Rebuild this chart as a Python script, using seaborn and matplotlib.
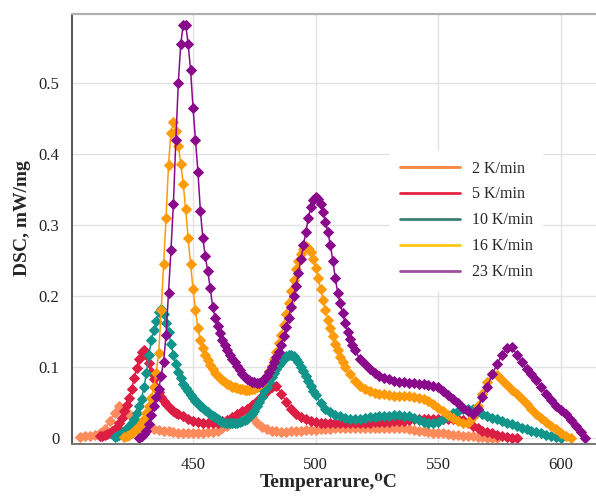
import numpy as np
import pandas as pd
import matplotlib
matplotlib.use("Agg")
import matplotlib.pyplot as plt
from matplotlib.lines import Line2D
import seaborn as sns

# DSC signal (mW/mg). Each run is stored in segments: (first temperature, step in degC, values)

# 2 K/min
dsc_2 = [0.002, 0.003, 0.004, 0.005, 0.007, 0.013, 0.024, 0.036, 0.046, 0.043,
         0.034, 0.026, 0.021, 0.017, 0.015, 0.013, 0.012, 0.011, 0.010, 0.009,
         0.008, 0.007, 0.007, 0.007, 0.008, 0.008, 0.009, 0.009, 0.011, 0.014,
         0.017, 0.021, 0.026, 0.031, 0.033, 0.030, 0.022, 0.016, 0.013, 0.011,
         0.010, 0.009, 0.009, 0.010, 0.011, 0.011, 0.012, 0.012, 0.012, 0.013,
         0.013, 0.013, 0.014, 0.014, 0.014, 0.014, 0.015, 0.015, 0.015, 0.015,
         0.015, 0.015, 0.015, 0.015, 0.015, 0.014, 0.014, 0.013, 0.012, 0.011,
         0.010, 0.009, 0.008, 0.008, 0.007, 0.006, 0.005, 0.005, 0.004, 0.003,
         0.003, 0.002, 0.002, 0.001, 0.001, 0.000]

# 5 K/min
dsc_5_peak = [0.003, 0.004, 0.005, 0.006, 0.008, 0.010, 0.012, 0.016, 0.022, 0.029,
              0.038, 0.047, 0.057, 0.070, 0.085, 0.099, 0.112, 0.121, 0.124, 0.117,
              0.106, 0.094, 0.083, 0.073, 0.065, 0.058, 0.052, 0.048, 0.044, 0.041,
              0.038, 0.036, 0.034]
dsc_5_tail = [0.031, 0.028, 0.025, 0.023, 0.022, 0.021, 0.021, 0.022, 0.024, 0.026,
              0.030, 0.034, 0.038, 0.042, 0.047, 0.053, 0.060, 0.067, 0.073, 0.074,
              0.063, 0.051, 0.041, 0.034, 0.030, 0.027, 0.025, 0.023, 0.022, 0.022,
              0.021, 0.021, 0.021, 0.021, 0.021, 0.022, 0.022, 0.022, 0.022, 0.023,
              0.023, 0.023, 0.023, 0.024, 0.024, 0.025, 0.026, 0.027, 0.027, 0.028,
              0.028, 0.028, 0.028, 0.028, 0.028, 0.027, 0.027, 0.026, 0.022, 0.017,
              0.014, 0.011, 0.009, 0.007, 0.005, 0.003, 0.002, 0.001, 0.000]

# 10 K/min
dsc_10_peak = [0.002, 0.003, 0.005, 0.007, 0.010, 0.013, 0.017, 0.021, 0.028, 0.036,
               0.045, 0.056, 0.072, 0.092, 0.118, 0.138, 0.153, 0.165, 0.178, 0.182,
               0.175, 0.163, 0.150, 0.133, 0.117, 0.104, 0.094, 0.085, 0.077, 0.071,
               0.066, 0.061, 0.057, 0.053, 0.050, 0.046, 0.043, 0.040, 0.037, 0.034,
               0.032, 0.030, 0.027, 0.025, 0.023, 0.022, 0.021, 0.021, 0.021, 0.021,
               0.022, 0.023, 0.024, 0.026, 0.028, 0.031, 0.034, 0.039, 0.045, 0.051,
               0.058, 0.066, 0.073, 0.080, 0.086, 0.092, 0.098, 0.103, 0.108, 0.112,
               0.116, 0.118, 0.118, 0.116, 0.112, 0.107, 0.101, 0.095, 0.088, 0.081,
               0.074, 0.067, 0.061]
dsc_10_tail = [0.050, 0.042, 0.037, 0.033, 0.031, 0.029, 0.028, 0.028, 0.028, 0.029,
               0.030, 0.030, 0.031, 0.032, 0.032, 0.033, 0.033, 0.032, 0.031, 0.029,
               0.026, 0.023, 0.021, 0.021, 0.023, 0.027, 0.032, 0.036, 0.039, 0.041,
               0.042, 0.041, 0.038, 0.035, 0.032, 0.029, 0.027, 0.024, 0.022, 0.020,
               0.018, 0.015, 0.013, 0.011, 0.009, 0.007, 0.005, 0.004, 0.002, 0.001]

# 16 K/min
dsc_16_peak = [0.002, 0.003, 0.005, 0.007, 0.010, 0.013, 0.017, 0.022, 0.028, 0.036,
               0.045, 0.057, 0.072, 0.092, 0.120, 0.180, 0.245, 0.310, 0.385, 0.430,
               0.445, 0.432, 0.412, 0.386, 0.358, 0.322, 0.282, 0.245, 0.210, 0.180,
               0.155, 0.138, 0.127, 0.118, 0.110, 0.103, 0.097, 0.092, 0.088, 0.085,
               0.082, 0.079, 0.077, 0.075, 0.073, 0.072, 0.071, 0.070, 0.069, 0.068,
               0.068, 0.068, 0.069, 0.070, 0.072, 0.075, 0.078, 0.083, 0.088, 0.095,
               0.102, 0.112, 0.122, 0.134, 0.146, 0.160, 0.175, 0.191, 0.208, 0.223,
               0.238, 0.250, 0.260, 0.267, 0.271, 0.268, 0.262, 0.252, 0.240, 0.226,
               0.210, 0.195, 0.180, 0.167, 0.155, 0.144, 0.133, 0.124, 0.115, 0.108,
               0.101]
dsc_16_tail = [0.090, 0.081, 0.074, 0.069, 0.066, 0.064, 0.063, 0.062, 0.061, 0.060,
               0.060, 0.059, 0.059, 0.058, 0.057, 0.055, 0.052, 0.048, 0.043, 0.038,
               0.033, 0.029, 0.025, 0.022, 0.021, 0.030, 0.045, 0.063, 0.080, 0.090,
               0.089, 0.082, 0.075, 0.068, 0.062, 0.055, 0.048, 0.041, 0.035, 0.029,
               0.023, 0.018, 0.013, 0.008, 0.004, 0.000]

# 23 K/min
dsc_23_peak = [0.001, 0.003, 0.006, 0.010, 0.020, 0.033, 0.045, 0.058, 0.070, 0.088,
               0.108, 0.145, 0.205, 0.265, 0.330, 0.420, 0.500, 0.555, 0.582, 0.582,
               0.555, 0.518, 0.465, 0.420, 0.375, 0.320, 0.282, 0.256, 0.235, 0.212,
               0.185, 0.170, 0.158, 0.148, 0.139, 0.131, 0.124, 0.118, 0.112, 0.107,
               0.102, 0.096, 0.090, 0.087, 0.084, 0.082, 0.080, 0.079, 0.078, 0.078,
               0.080, 0.084, 0.088, 0.094, 0.100, 0.107, 0.114, 0.122, 0.132, 0.144,
               0.157, 0.170, 0.185, 0.200, 0.215, 0.233, 0.252, 0.272, 0.290, 0.310,
               0.325, 0.335, 0.340, 0.337, 0.330, 0.318, 0.305, 0.290, 0.272, 0.250,
               0.225, 0.205, 0.190, 0.176, 0.163, 0.150, 0.140, 0.131, 0.124]
dsc_23_tail = [0.112, 0.104, 0.097, 0.092, 0.088, 0.085, 0.083, 0.081, 0.080, 0.079,
               0.078, 0.078, 0.077, 0.076, 0.075, 0.074, 0.072, 0.067, 0.061, 0.055,
               0.050, 0.043, 0.038, 0.035, 0.042, 0.058, 0.073, 0.090, 0.105, 0.118,
               0.127, 0.128, 0.118, 0.108, 0.098, 0.091, 0.082, 0.072, 0.063, 0.054,
               0.046, 0.040, 0.034, 0.026, 0.017, 0.009, 0.001]

rates = ["2 K/min", "5 K/min", "10 K/min", "16 K/min", "23 K/min"]
segments = {
    "2 K/min": [(404, 2, dsc_2)],
    "5 K/min": [(412, 1, dsc_5_peak), (446, 2, dsc_5_tail)],
    "10 K/min": [(418, 1, dsc_10_peak), (502, 2, dsc_10_tail)],
    "16 K/min": [(422, 1, dsc_16_peak), (514, 2, dsc_16_tail)],
    "23 K/min": [(428, 1, dsc_23_peak), (518, 2, dsc_23_tail)],
}

curve_colors = ["#FF8A5C", "#DC1E44", "#11958A", "#FF9A08", "#8A0A8C"]
legend_colors = ["#F58540", "#E5233F", "#3C7F76", "#FFC814", "#9D4FA0"]

x_ticks = [450, 500, 550, 600]
y_ticks = [0, 0.1, 0.2, 0.3, 0.4, 0.5]
y_tick_labels = ["0", "0.1", "0.2", "0.3", "0.4", "0.5"]

frames = []
for rate in rates:
    for t0, step, vals in segments[rate]:
        temps = t0 + step * np.arange(len(vals))
        frames.append(pd.DataFrame({"T": temps, "DSC": vals, "rate": rate}))
df = pd.concat(frames, ignore_index=True)

sns.set_style("white")
plt.rcParams["font.family"] = ["Liberation Serif", "DejaVu Serif"]

fig = plt.figure(figsize=(5.96, 4.99), dpi=100)
ax = fig.add_axes([0.121, 0.110, 0.879, 0.862])

for rate, col in zip(rates, curve_colors):
    sub = df[df["rate"] == rate]
    sns.lineplot(data=sub, x="T", y="DSC", ax=ax, color=col, linewidth=1.1,
                 marker="D", markersize=4.7, markeredgewidth=0.7,
                 markeredgecolor=col, sort=False, estimator=None, legend=False)

ax.set_xlim(400.7, 614.3)
ax.set_ylim(-0.008, 0.597)
ax.set_xticks(x_ticks)
ax.set_yticks(y_ticks)
ax.set_yticklabels(y_tick_labels)
ax.grid(True, color="#e3e3e3", linewidth=1.0)
ax.set_axisbelow(True)
ax.tick_params(axis="x", length=0, pad=9, labelsize=12, labelcolor="#222222")
ax.tick_params(axis="y", length=0, pad=9, labelsize=12, labelcolor="#222222")

for side in ["left", "bottom", "top"]:
    ax.spines[side].set_visible(True)
ax.spines["right"].set_visible(False)
ax.spines["left"].set_color("#555555")
ax.spines["left"].set_linewidth(1.4)
ax.spines["bottom"].set_color("#777777")
ax.spines["bottom"].set_linewidth(1.4)
ax.spines["top"].set_color("#b0b0b0")
ax.spines["top"].set_linewidth(1.6)

ax.set_xlabel("Temperarure,\u2070C", fontsize=14, fontweight="bold")
ax.set_ylabel("DSC, mW/mg", fontsize=14, fontweight="bold")
ax.xaxis.set_label_coords(0.49, -0.068)
ax.yaxis.set_label_coords(-0.078, 0.525)

handles = [Line2D([0], [0], color=c, linewidth=2.0) for c in legend_colors]
leg = ax.legend(handles, rates, loc="upper left", bbox_to_anchor=(0.592, 0.70),
                frameon=True, fontsize=11.5, handlelength=3.75, handletextpad=0.75,
                labelspacing=0.62, borderpad=0.6, fancybox=False)
leg.get_frame().set_facecolor("white")
leg.get_frame().set_edgecolor("white")
leg.get_frame().set_alpha(1.0)

fig.savefig("out.png", dpi=100)
